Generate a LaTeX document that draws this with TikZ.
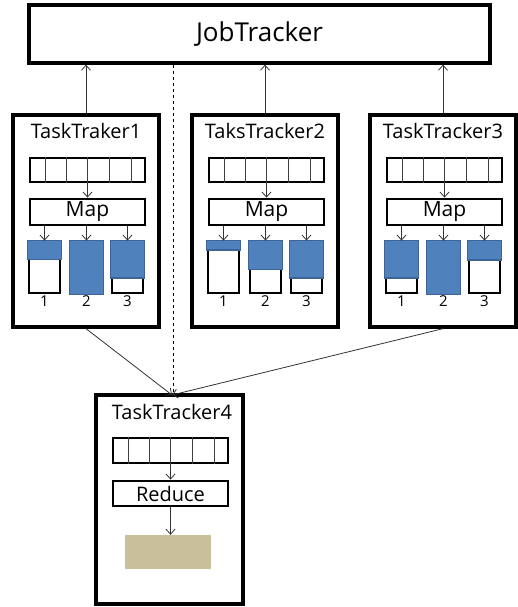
\documentclass[tikz,border=0pt]{standalone}
\usepackage{fontspec}
\setmainfont{Open Sans}
\usetikzlibrary{arrows.meta,calc}

\definecolor{bucketblue}{HTML}{4F81BD}
\definecolor{bucketedge}{HTML}{3C6496}
\definecolor{reducetan}{HTML}{C9BF9A}

\tikzset{
  box/.style={draw, line width=3.3pt, fill=white, inner sep=0pt},
  inbox/.style={draw, line width=2.8pt, minimum width=115pt, inner sep=0pt},
  bucket/.style={draw, line width=2.8pt, minimum width=31pt, minimum height=51pt, inner sep=0pt},
  level/.style={fill=bucketblue, draw=bucketedge, line width=1.6pt},
  cell/.style={draw=black!75, line width=1pt},
  conn/.style={-{Straight Barb[length=5pt,width=9pt]}, line width=0.8pt, draw=black!80},
  title/.style={font=\fontsize{20}{22}\selectfont},
}

\begin{document}
\begin{tikzpicture}[x=1pt,y=-1pt]
\useasboundingbox (0,0) rectangle (518,607);

\node[box, minimum width=461pt, minimum height=58pt, font=\fontsize{26}{28}\selectfont] (job) at (259.5,34) {JobTracker};

% map side
\foreach \n/\L/\name/\fa/\fb/\fc in {1/13/TaskTraker1/0.35/1/0.70, 2/192/TaksTracker2/0.18/0.54/0.69, 3/370/TaskTracker3/0.69/1/0.36} {
  \node[box, minimum width=146pt, minimum height=212pt] (tt\n) at (\L+73,221) {};
  \node[title] (tt\n name) at (\L+73,131) {\name};
  \draw[conn] (tt\n.north) -- (tt\n.north |- job.south);

  \node[inbox, minimum height=24pt] (q\n) at (\L+74.5,170) {};
  \foreach \d in {17,38,59,81,103}
    \draw[cell] ($(q\n.north west)+(\d,0)$) -- ($(q\n.south west)+(\d,0)$);

  \node[inbox, minimum height=26pt, font=\fontsize{21}{23}\selectfont] (m\n) at (\L+74.5,212) {Map};
  \draw[conn] (q\n) -- (m\n);

  \foreach \k/\dx/\f in {1/31.5/\fa, 2/73.5/\fb, 3/114.5/\fc} {
    \node[bucket] (b\n\k) at (\L+\dx,267.5) {};
    \draw[level] (b\n\k.north west) rectangle ($(b\n\k.north east)!\f!(b\n\k.south east)$);
    \node[font=\fontsize{15}{16}\selectfont, anchor=north, inner sep=1pt] (l\n\k) at (b\n\k.south) {\k};
    \draw[conn] (m\n.south -| b\n\k.north) -- (b\n\k.north);
  }
}

% reduce side
\node[box, minimum width=147pt, minimum height=209pt] (tt4) at (169.5,499.5) {};
\node[title] (tt4name) at (172,412) {TaskTracker4};
\node[inbox, minimum height=25pt] (q4) at (170.5,450.5) {};
\foreach \d in {17,38,59,81,103}
  \draw[cell] ($(q4.north west)+(\d,0)$) -- ($(q4.south west)+(\d,0)$);
\node[inbox, minimum height=25pt, font=\fontsize{20}{22}\selectfont] (r4) at (170.5,493.5) {Reduce};
\node[fill=reducetan, minimum width=86pt, minimum height=34pt, inner sep=0pt] (out) at (168,552) {};
\draw[conn] (q4) -- (r4);
\draw[conn] (r4.south) -- (r4.south |- out.north);

\coordinate (hub) at (172,395);
\draw[conn] (tt1.south) -- (hub);
\draw[conn] (tt3.south) -- (hub);
\draw[dashed, line width=0.8pt] (job.south -| 173,0) -- (173,395);
\end{tikzpicture}
\end{document}
